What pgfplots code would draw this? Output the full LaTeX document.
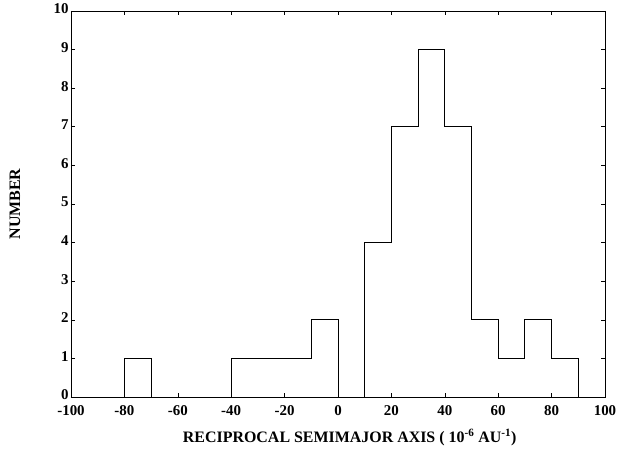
\documentclass[border=0pt]{standalone}
\usepackage{fontspec}
\setmainfont{Liberation Serif}
\usepackage{pgfplots}
\pgfplotsset{compat=1.18}

\begin{document}
\begin{tikzpicture}
\useasboundingbox (-71bp,-57bp) rectangle (546bp,397bp);
\begin{axis}[
    at={(0,0)}, anchor=south west,
    scale only axis,
    width=534bp, height=386bp,
    xmin=-100, xmax=100,
    ymin=0, ymax=10,
    xtick={-100,-80,...,100},
    ytick={0,1,...,10},
    tick align=inside,
    major tick length=4bp,
    tick pos=both,
    axis line style={line width=0.7pt},
    tick style={line width=0.6pt, black},
    /pgf/number format/assume math mode=true,
    tick label style={font=\fontsize{15}{15}\selectfont\bfseries},
    xticklabel style={yshift=-5bp},
    yticklabel style={xshift=1bp, yshift=2bp},
    xlabel={RECIPROCAL SEMIMAJOR AXIS ( 10\textsuperscript{-6} AU\textsuperscript{-1})},
    ylabel={NUMBER},
    label style={font=\fontsize{16}{16}\selectfont\bfseries},
    xlabel style={at={(axis description cs:0.522,-0.104)}, anchor=center},
    ylabel style={at={(axis description cs:-0.105,0.5)}, anchor=center},
]
\addplot[const plot, black, line width=0.9pt] coordinates {
    (-100,0)(-80,1)(-70,0)(-60,0)(-50,0)(-40,1)(-30,1)(-20,1)(-10,2)(0,0)
    (10,4)(20,7)(30,9)(40,7)(50,2)(60,1)(70,2)(80,1)(90,0)(100,0)
};
\end{axis}
\end{tikzpicture}
\end{document}
